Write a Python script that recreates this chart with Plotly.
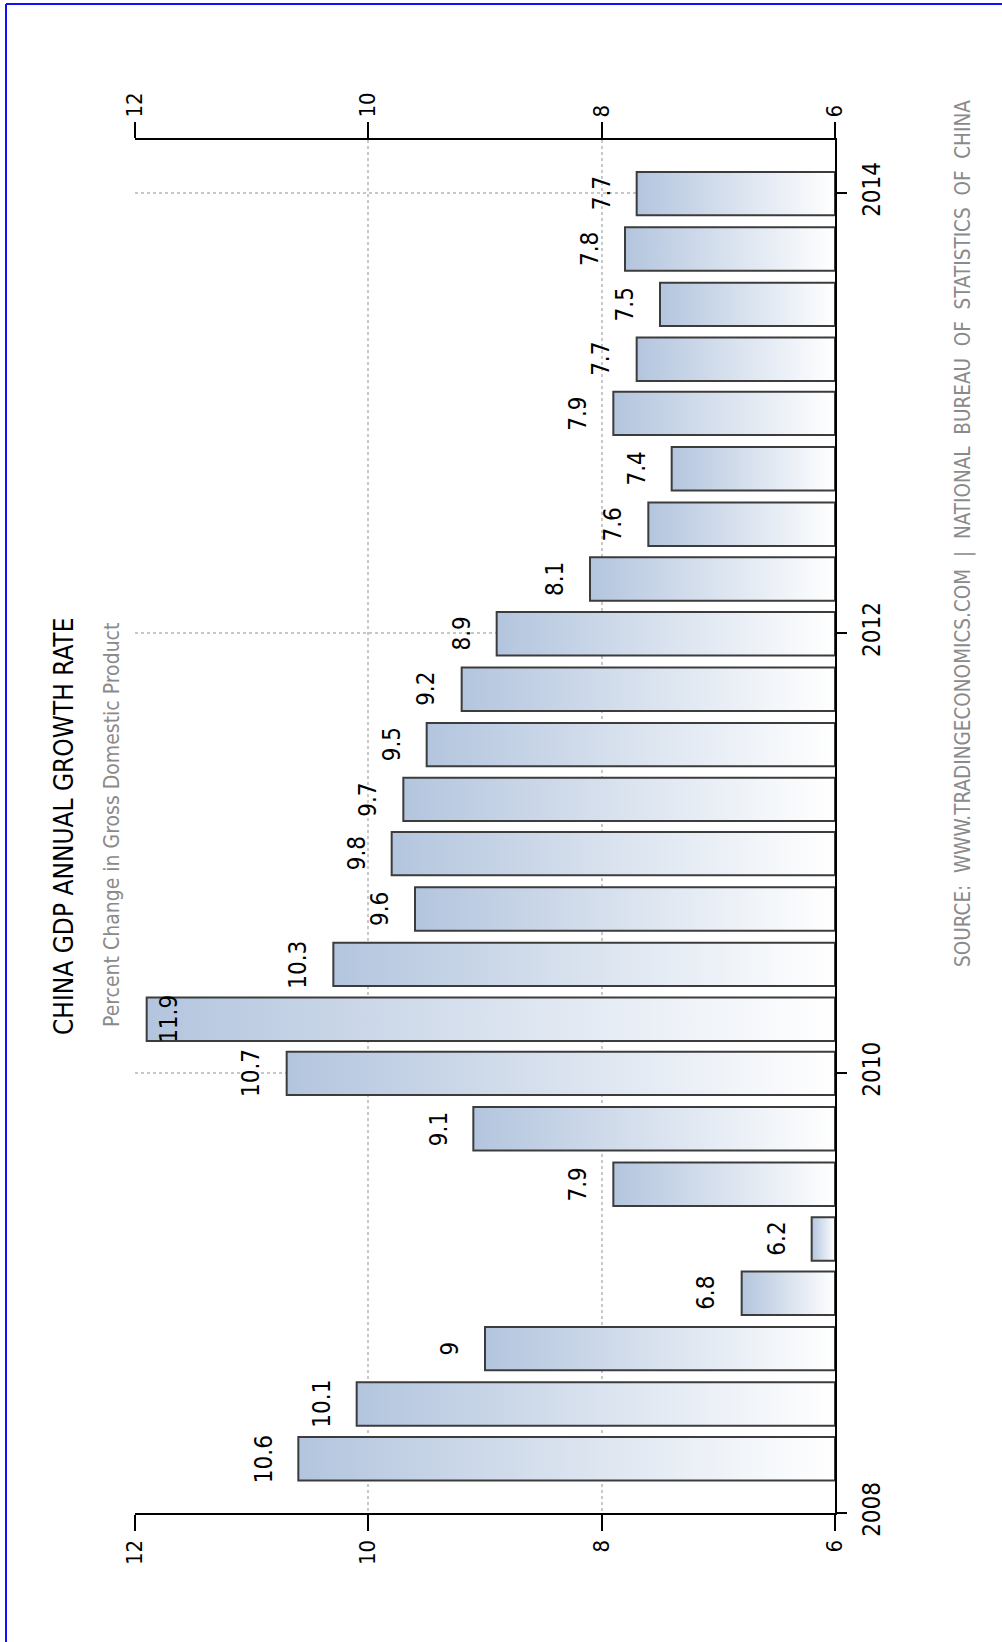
import pandas as pd
import plotly.graph_objects as go

# China GDP annual growth rate, quarterly (percent), quarter-end dates
quarters = [
    "2008-03-31", "2008-06-30", "2008-09-30", "2008-12-31",
    "2009-03-31", "2009-06-30", "2009-09-30", "2009-12-31",
    "2010-03-31", "2010-06-30", "2010-09-30", "2010-12-31",
    "2011-03-31", "2011-06-30", "2011-09-30", "2011-12-31",
    "2012-03-31", "2012-06-30", "2012-09-30", "2012-12-31",
    "2013-03-31", "2013-06-30", "2013-09-30", "2013-12-31",
]
growth = [
    10.6, 10.1, 9.0, 6.8,
    6.2, 7.9, 9.1, 10.7,
    11.9, 10.3, 9.6, 9.8,
    9.7, 9.5, 9.2, 8.9,
    8.1, 7.6, 7.4, 7.9,
    7.7, 7.5, 7.8, 7.7,
]
value_ticks = [6, 8, 10, 12]
year_ticks = ["2008-01-01", "2010-01-01", "2012-01-01", "2014-01-01"]
year_labels = ["2008", "2010", "2012", "2014"]

BASE = 6
VMAX = 12
FONT = "Liberation Sans Narrow, Arial Narrow, DejaVu Sans Condensed, sans-serif"
half_bar = pd.Timedelta(days=36)

fig = go.Figure()

# Each quarter is a filled box with a gradient running from the bar end to the baseline
for q, v in zip(quarters, growth):
    d = pd.Timestamp(q)
    lo = (d - half_bar).strftime("%Y-%m-%d %H:%M")
    hi = (d + half_bar).strftime("%Y-%m-%d %H:%M")
    fig.add_trace(go.Scatter(
        x=[BASE, v, v, BASE, BASE],
        y=[lo, lo, hi, hi, lo],
        mode="lines",
        fill="toself",
        fillgradient=dict(
            type="horizontal",
            start=v,
            stop=BASE,
            colorscale=[[0, "#b3c5de"], [1, "#ffffff"]],
        ),
        line=dict(color="#3c3c3c", width=2),
        hoverinfo="skip",
        showlegend=False,
    ))

# Value labels above each bar (pushed inside when there is no room left)
for q, v in zip(quarters, growth):
    inside = v > VMAX - 0.45
    fig.add_annotation(
        x=v, y=q, xref="x", yref="y",
        text=f"{v:g}",
        textangle=-90,
        showarrow=False,
        xanchor="center", yanchor="middle",
        xshift=23 if inside else -35,
        font=dict(family=FONT, size=24, color="#000000"),
    )

# Invisible trace so the top value axis is drawn
fig.add_trace(go.Scatter(
    x=[BASE, VMAX], y=[quarters[0], quarters[-1]], xaxis="x2", yaxis="y",
    mode="markers", marker=dict(opacity=0), hoverinfo="skip", showlegend=False,
))

value_axis = dict(
    range=[VMAX, BASE],
    tickvals=value_ticks,
    tickangle=-90,
    ticks="outside", ticklen=16, tickwidth=2, tickcolor="#000000",
    showline=True, linecolor="#000000", linewidth=2,
    tickfont=dict(family=FONT, size=22, color="#000000"),
    zeroline=False,
)

fig.update_layout(
    width=1002, height=1642, autosize=False,
    margin=dict(l=135, r=167, t=140, b=129),
    paper_bgcolor="#ffffff", plot_bgcolor="#ffffff",
    xaxis=dict(
        **value_axis,
        side="bottom",
        showgrid=True, gridcolor="#c8c8c8", gridwidth=2, griddash="dot",
    ),
    xaxis2=dict(
        **value_axis,
        side="top", overlaying="x", matches="x",
        showgrid=False,
    ),
    yaxis=dict(
        type="date",
        range=["2008-01-01", "2014-03-30"],
        side="right",
        tickvals=year_ticks, ticktext=year_labels,
        tickangle=-90,
        ticks="outside", ticklen=10, tickwidth=2, tickcolor="#000000",
        ticklabelstandoff=4,
        showline=True, linecolor="#000000", linewidth=2,
        showgrid=True, gridcolor="#c8c8c8", gridwidth=2, griddash="dot",
        tickfont=dict(family=FONT, size=24, color="#000000"),
        zeroline=False,
    ),
    font=dict(family=FONT),
)

# Title, subtitle and source line, all set vertically
fig.add_annotation(
    xref="paper", yref="paper",
    x=(64 - 135) / 700, y=(1513 - 827) / 1373,
    text="CHINA GDP ANNUAL GROWTH RATE",
    textangle=-90, showarrow=False, xanchor="center", yanchor="middle",
    font=dict(family=FONT, size=26, color="#000000"),
)
fig.add_annotation(
    xref="paper", yref="paper",
    x=(112 - 135) / 700, y=(1513 - 825) / 1373,
    text="Percent Change in Gross Domestic Product",
    textangle=-90, showarrow=False, xanchor="center", yanchor="middle",
    font=dict(family=FONT, size=21, color="#8a8a8a"),
)
fig.add_annotation(
    xref="paper", yref="paper",
    x=(963 - 135) / 700, y=(1513 - 534) / 1373,
    text="SOURCE:  WWW.TRADINGECONOMICS.COM  |  NATIONAL  BUREAU  OF  STATISTICS  OF  CHINA",
    textangle=-90, showarrow=False, xanchor="center", yanchor="middle",
    font=dict(family=FONT, size=20.5, color="#8a8a8a"),
)

# Blue frame along the top and left edges of the page
fig.add_shape(type="line", xref="paper", yref="paper",
              x0=(6 - 135) / 700, x1=(1010 - 135) / 700,
              y0=(1513 - 4) / 1373, y1=(1513 - 4) / 1373,
              line=dict(color="#1010ff", width=2))
fig.add_shape(type="line", xref="paper", yref="paper",
              x0=(6 - 135) / 700, x1=(6 - 135) / 700,
              y0=(1513 - 4) / 1373, y1=(1513 - 1650) / 1373,
              line=dict(color="#1010ff", width=2))

fig.write_html("out.html")
